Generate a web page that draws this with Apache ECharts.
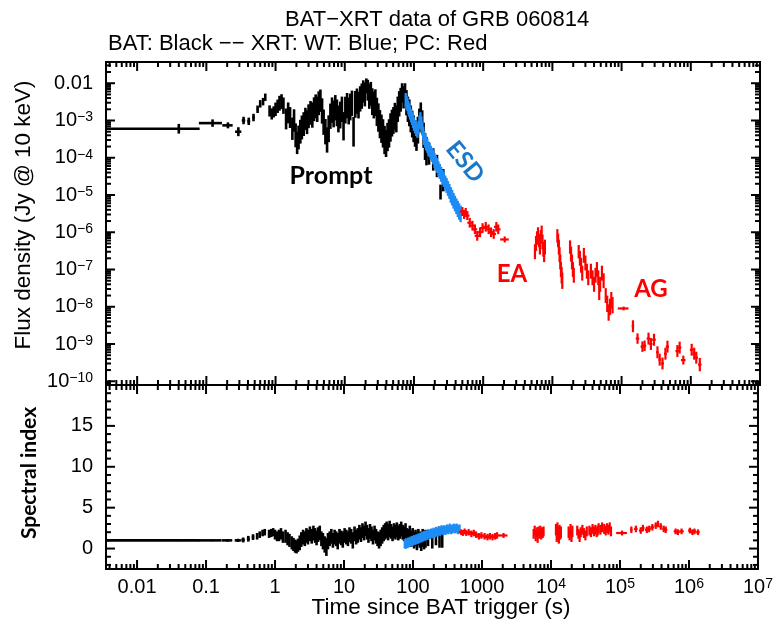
<!DOCTYPE html>
<html>
<head>
<meta charset="utf-8">
<title>BAT-XRT data of GRB 060814</title>
<script src="https://cdn.jsdelivr.net/npm/echarts@6/dist/echarts.min.js"></script>
<style>
  html, body { margin: 0; padding: 0; background: #fff; }
  #chart { width: 776px; height: 626px; }
</style>
</head>
<body>
<div id="chart"></div>
<script>
// flux points: [time (s), time half width (s), flux density (Jy), flux error (dex)]
// index points: [spectral index, error], one per flux point of the same instrument
var batFlux = [
  [0.04, 0.04, 6.0e-4, 0.13], [0.123, 0.045, 8.5e-4, 0.1], [0.205, 0.035, 7.4e-4, 0.08], [0.29, 0.03, 5.0e-4, 0.12],
  [0.345, 0.02, 1.0e-3, 0.1], [0.41, 0.02, 9.5e-4, 0.1], [0.48, 0.02, 1.2e-3, 0.1], [0.55, 0.015, 2.0e-3, 0.1],
  [0.6, 0.015, 2.8e-3, 0.1], [0.66, 0.015, 3.2e-3, 0.1], [0.71, 0.015, 4.2e-3, 0.1], [0.82, 0.02, 1.8e-3, 0.15],
  [0.88, 0.02, 1.5e-3, 0.15], [0.94, 0.02, 1.7e-3, 0.15], [1.0, 0.02, 2.0e-3, 0.18], [1.07, 0.02, 2.4e-3, 0.18],
  [1.14, 0.02, 2.9e-3, 0.2], [1.22, 0.02, 3.2e-3, 0.2], [1.3, 0.02, 2.5e-3, 0.22], [1.42, 0.02, 1.1e-3, 0.28],
  [1.52, 0.02, 1.6e-3, 0.28], [1.62, 0.02, 1.2e-3, 0.28], [1.75, 0.02, 6.0e-4, 0.3], [1.85, 0.02, 1.0e-3, 0.3],
  [1.95, 0.02, 4.0e-4, 0.32], [2.05, 0.02, 2.5e-4, 0.3], [2.15, 0.02, 3.5e-4, 0.32], [2.28, 0.03, 5.0e-4, 0.32],
  [2.4, 0.03, 6.5e-4, 0.32], [2.55, 0.03, 8.0e-4, 0.32], [2.7, 0.03, 1.1e-3, 0.3], [2.85, 0.03, 9.0e-4, 0.32],
  [3.0, 0.03, 1.3e-3, 0.32], [3.2, 0.03, 1.6e-3, 0.32], [3.4, 0.03, 1.4e-3, 0.34], [3.6, 0.03, 2.0e-3, 0.32],
  [3.8, 0.03, 2.4e-3, 0.32], [4.0, 0.03, 2.0e-3, 0.34], [4.2, 0.03, 2.9e-3, 0.32], [4.45, 0.03, 3.4e-3, 0.3],
  [4.7, 0.03, 1.8e-3, 0.34], [4.95, 0.03, 9.0e-4, 0.34], [5.25, 0.03, 5.0e-4, 0.34], [5.55, 0.03, 3.0e-4, 0.34],
  [5.85, 0.03, 6.0e-4, 0.36], [6.2, 0.04, 1.3e-3, 0.34], [6.55, 0.04, 1.9e-3, 0.34], [6.9, 0.04, 1.5e-3, 0.36],
  [7.3, 0.04, 2.2e-3, 0.34], [7.7, 0.04, 1.6e-3, 0.36], [8.1, 0.04, 1.1e-3, 0.36], [8.6, 0.05, 1.4e-3, 0.36],
  [9.1, 0.05, 2.0e-3, 0.34], [9.6, 0.05, 7.0e-4, 0.38], [10.2, 0.05, 1.9e-3, 0.36], [10.8, 0.05, 2.5e-3, 0.34],
  [11.4, 0.05, 1.8e-3, 0.36], [12.0, 0.05, 2.3e-3, 0.36], [12.7, 0.05, 2.9e-3, 0.34], [13.4, 0.05, 5.0e-4, 0.4],
  [14.2, 0.05, 2.7e-3, 0.36], [15.0, 0.05, 3.3e-3, 0.34], [15.8, 0.05, 2.6e-3, 0.36], [16.7, 0.05, 3.8e-3, 0.34],
  [17.6, 0.05, 4.5e-3, 0.34], [18.5, 0.05, 6.0e-3, 0.3], [19.5, 0.05, 5.0e-3, 0.32], [20.5, 0.05, 8.5e-3, 0.2],
  [21.5, 0.05, 6.5e-3, 0.28], [22.6, 0.05, 4.5e-3, 0.34], [23.8, 0.05, 5.2e-3, 0.32], [25.0, 0.05, 3.2e-3, 0.36],
  [26.3, 0.05, 2.6e-3, 0.36], [27.7, 0.05, 3.0e-3, 0.36], [29.1, 0.05, 1.7e-3, 0.38], [30.6, 0.05, 1.2e-3, 0.38],
  [32.2, 0.05, 8.0e-4, 0.38], [33.9, 0.05, 6.0e-4, 0.38], [35.7, 0.05, 4.5e-4, 0.38], [37.6, 0.05, 3.0e-4, 0.38],
  [39.5, 0.05, 2.4e-4, 0.36], [41.5, 0.05, 3.6e-4, 0.38], [43.6, 0.05, 4.5e-4, 0.38], [45.8, 0.05, 6.5e-4, 0.38],
  [48.1, 0.05, 8.5e-4, 0.36], [50.5, 0.05, 1.0e-3, 0.36], [53.0, 0.05, 1.3e-3, 0.36], [55.6, 0.05, 1.1e-3, 0.36],
  [58.3, 0.05, 2.0e-3, 0.34], [61.2, 0.05, 2.8e-3, 0.34], [64.2, 0.05, 3.6e-3, 0.32], [67.4, 0.05, 5.5e-3, 0.26],
  [70.7, 0.05, 4.2e-3, 0.3], [74.2, 0.05, 5.0e-3, 0.3], [77.9, 0.05, 3.0e-3, 0.34], [81.7, 0.05, 2.0e-3, 0.34],
  [85.7, 0.05, 1.6e-3, 0.36], [89.9, 0.05, 1.1e-3, 0.36], [94.3, 0.05, 8.0e-4, 0.36], [98.9, 0.05, 6.0e-4, 0.36],
  [103.7, 0.05, 4.5e-4, 0.36], [108.7, 0.05, 3.5e-4, 0.36], [114.0, 0.05, 5.5e-4, 0.36], [119.6, 0.05, 1.0e-3, 0.32],
  [125.4, 0.05, 1.6e-3, 0.28], [131.5, 0.05, 9.0e-4, 0.32], [137.9, 0.05, 4.0e-4, 0.34], [144.6, 0.05, 2.0e-4, 0.36],
  [151.6, 0.05, 1.5e-4, 0.38], [165, 2, 1.3e-4, 0.3], [190, 3, 9.0e-5, 0.3], [215, 3, 6.0e-5, 0.3],
  [242, 4, 1.2e-5, 0.2], [265, 4, 2.5e-5, 0.3]
];
var batIndex = [
  [1.0, 0.1], [1.0, 0.1], [1.0, 0.15], [1.0, 0.2], [1.05, 0.3], [1.2, 0.35], [1.4, 0.35], [1.5, 0.4],
  [1.7, 0.4], [1.9, 0.4], [2.0, 0.4], [1.8, 0.5], [1.9, 0.5], [2.0, 0.5], [1.7, 0.6], [1.5, 0.6],
  [1.6, 0.7], [1.8, 0.7], [1.4, 0.7], [1.5, 0.8], [1.2, 0.8], [1.0, 0.8], [0.7, 0.8], [0.5, 0.8],
  [0.3, 0.8], [0.2, 0.8], [0.4, 0.8], [0.7, 0.9], [1.1, 0.9], [1.4, 0.9], [1.2, 0.9], [1.6, 0.9],
  [1.4, 0.9], [1.8, 0.9], [1.5, 0.9], [1.9, 0.9], [1.6, 0.9], [1.3, 0.9], [1.7, 0.9], [1.9, 0.9],
  [1.2, 0.9], [0.9, 1.0], [0.5, 1.0], [0.2, 1.1], [0.9, 1.0], [1.2, 0.9], [1.5, 0.9], [1.0, 0.9],
  [1.4, 0.9], [1.2, 0.9], [0.9, 1.0], [1.5, 0.9], [1.3, 0.9], [1.1, 1.0], [1.6, 0.9], [1.4, 0.9],
  [1.2, 0.9], [1.7, 0.9], [1.5, 0.9], [1.0, 1.0], [1.8, 0.9], [1.4, 0.9], [1.6, 0.9], [2.0, 0.9],
  [1.7, 0.9], [2.2, 0.9], [1.9, 0.9], [2.4, 0.9], [2.0, 0.9], [1.6, 0.9], [2.1, 0.9], [1.8, 0.9],
  [1.4, 0.9], [1.9, 0.9], [1.5, 0.9], [1.2, 0.9], [1.0, 1.0], [1.3, 1.0], [1.6, 1.0], [1.9, 1.0],
  [2.1, 1.0], [2.3, 1.0], [2.0, 1.0], [2.4, 1.0], [2.1, 0.9], [1.8, 0.9], [2.2, 0.9], [2.0, 0.9],
  [2.3, 0.9], [1.9, 0.9], [2.1, 0.9], [2.4, 0.9], [2.0, 0.9], [1.8, 0.9], [2.2, 0.9], [1.6, 0.9],
  [1.4, 1.0], [1.8, 1.0], [1.2, 1.0], [1.5, 1.0], [1.0, 1.0], [1.3, 1.0], [0.9, 1.1], [1.4, 1.0],
  [1.1, 1.0], [0.8, 1.1], [1.3, 1.1], [1.0, 1.1], [1.2, 1.1], [1.3, 1.0], [1.0, 1.0], [1.4, 1.0],
  [1.2, 1.1], [1.1, 1.0]
];

var wtFlux = [
  [76, 1.5, 3.6e-3, 0.18], [78, 1.5, 3.0e-3, 0.18], [80.5, 1.5, 2.7e-3, 0.18], [83, 1.5, 2.2e-3, 0.18],
  [85.5, 1.5, 1.9e-3, 0.18], [88, 1.5, 1.6e-3, 0.18], [91, 1.5, 1.35e-3, 0.18], [94, 1.5, 1.15e-3, 0.18],
  [97, 1.5, 9.5e-4, 0.18], [100, 2, 8.0e-4, 0.18], [104, 2, 6.8e-4, 0.18], [108, 2, 5.8e-4, 0.18],
  [112, 2, 5.2e-4, 0.18], [116, 2, 6.5e-4, 0.18], [120, 2, 9.0e-4, 0.18], [124, 2, 1.1e-3, 0.18],
  [128, 2, 8.5e-4, 0.18], [132, 2, 6.0e-4, 0.18], [136, 2, 4.5e-4, 0.18], [140, 2, 3.4e-4, 0.19],
  [145, 2, 2.9e-4, 0.19], [150, 2.5, 2.4e-4, 0.19], [156, 2.5, 2.1e-4, 0.19], [162, 2.5, 1.75e-4, 0.19],
  [168, 2.5, 1.6e-4, 0.19], [175, 3, 1.35e-4, 0.19], [182, 3, 1.2e-4, 0.19], [190, 3, 1.05e-4, 0.2],
  [198, 3, 8.5e-5, 0.2], [207, 3, 7.2e-5, 0.2], [216, 3, 6.2e-5, 0.2], [226, 3.5, 5.0e-5, 0.2],
  [236, 3.5, 4.3e-5, 0.2], [247, 4, 3.6e-5, 0.2], [258, 4, 3.0e-5, 0.2], [270, 4, 2.6e-5, 0.2],
  [283, 4.5, 2.1e-5, 0.2], [296, 4.5, 1.8e-5, 0.2], [310, 5, 1.5e-5, 0.2], [325, 5, 1.25e-5, 0.2],
  [340, 5.5, 1.0e-5, 0.21], [356, 5.5, 8.5e-6, 0.21], [373, 6, 7.0e-6, 0.21], [391, 6, 5.9e-6, 0.21],
  [410, 6.5, 5.0e-6, 0.21], [430, 7, 4.2e-6, 0.22], [450, 7, 3.6e-6, 0.22], [472, 8, 3.1e-6, 0.22]
];
var wtIndex = [
  [0.6, 0.55], [0.5, 0.55], [0.7, 0.55], [0.6, 0.55], [0.8, 0.55], [0.7, 0.55], [0.9, 0.55], [0.8, 0.55],
  [1.0, 0.55], [0.9, 0.55], [1.1, 0.55], [1.0, 0.55], [1.2, 0.55], [1.1, 0.55], [1.3, 0.55], [1.2, 0.55],
  [1.4, 0.55], [1.3, 0.55], [1.5, 0.55], [1.4, 0.55], [1.6, 0.55], [1.5, 0.55], [1.7, 0.55], [1.6, 0.55],
  [1.8, 0.55], [1.7, 0.55], [1.9, 0.55], [1.8, 0.55], [2.0, 0.55], [1.9, 0.55], [2.1, 0.55], [2.0, 0.55],
  [2.2, 0.55], [2.1, 0.55], [2.3, 0.55], [2.2, 0.55], [2.3, 0.55], [2.2, 0.55], [2.4, 0.55], [2.3, 0.55],
  [2.5, 0.55], [2.3, 0.55], [2.4, 0.55], [2.5, 0.55], [2.4, 0.55], [2.5, 0.55], [2.3, 0.55], [2.4, 0.55]
];

var pcFlux = [
  [500, 40, 3.6e-6, 0.12], [530, 40, 3.0e-6, 0.12], [560, 45, 3.4e-6, 0.12], [590, 45, 2.8e-6, 0.12],
  [640, 50, 1.8e-6, 0.13], [700, 55, 1.5e-6, 0.13], [760, 60, 1.2e-6, 0.13], [820, 65, 8.0e-7, 0.13],
  [900, 70, 1.0e-6, 0.13], [980, 80, 1.3e-6, 0.13], [1090, 85, 1.4e-6, 0.13], [1200, 95, 1.2e-6, 0.13],
  [1300, 100, 1.0e-6, 0.13], [1420, 110, 9.0e-7, 0.13], [1550, 120, 1.4e-6, 0.13], [1650, 130, 1.2e-6, 0.13],
  [2050, 290, 6.4e-7, 0.08],
  [5600, 110, 3.0e-7, 0.2], [5800, 110, 5.0e-7, 0.2], [6000, 110, 7.0e-7, 0.18], [6200, 110, 9.0e-7, 0.18],
  [6400, 110, 6.0e-7, 0.18], [6600, 110, 4.0e-7, 0.2], [6800, 110, 7.5e-7, 0.18], [7000, 110, 1.0e-6, 0.18],
  [7200, 110, 5.5e-7, 0.2], [7400, 110, 3.5e-7, 0.2], [7600, 110, 2.5e-7, 0.2], [7800, 110, 4.0e-7, 0.2],
  [11800, 150, 8.0e-7, 0.18], [12100, 150, 6.0e-7, 0.18], [12400, 150, 4.0e-7, 0.2], [12700, 150, 2.5e-7, 0.2],
  [13000, 150, 1.6e-7, 0.2], [13300, 150, 1.0e-7, 0.2], [13600, 150, 7.0e-8, 0.22], [13900, 150, 5.0e-8, 0.22],
  [18000, 250, 4.0e-7, 0.18], [18600, 250, 2.6e-7, 0.2], [19200, 250, 1.6e-7, 0.2], [19800, 250, 1.0e-7, 0.2],
  [20400, 250, 7.0e-8, 0.2],
  [24000, 350, 3.0e-7, 0.18], [25000, 350, 2.0e-7, 0.2], [26000, 350, 1.3e-7, 0.2], [27000, 350, 8.0e-8, 0.2],
  [28500, 350, 2.4e-7, 0.2], [30000, 350, 1.5e-7, 0.2], [31500, 350, 9.0e-8, 0.2], [33000, 350, 6.0e-8, 0.2],
  [36000, 500, 9.0e-8, 0.2], [38000, 500, 6.0e-8, 0.2], [40000, 500, 4.0e-8, 0.2], [42000, 500, 7.0e-8, 0.2],
  [44000, 500, 1.0e-7, 0.2], [46000, 500, 6.0e-8, 0.2], [47500, 500, 2.5e-8, 0.22], [49000, 500, 4.0e-8, 0.2],
  [52000, 500, 8.0e-8, 0.2], [55000, 500, 5.0e-8, 0.2],
  [59000, 700, 2.0e-8, 0.2], [62000, 700, 1.2e-8, 0.22], [65000, 700, 7.0e-9, 0.22], [68000, 700, 1.0e-8, 0.22],
  [71000, 700, 1.5e-8, 0.22], [74000, 700, 1.1e-8, 0.22],
  [107000, 19000, 9.0e-9, 0.05], [146000, 6000, 3.0e-9, 0.16], [170000, 10000, 1.4e-9, 0.14],
  [200000, 12000, 8.5e-10, 0.14], [215000, 12000, 9.0e-10, 0.14], [245000, 15000, 1.4e-9, 0.16],
  [265000, 15000, 1.0e-9, 0.16], [294000, 18000, 1.3e-9, 0.16], [330000, 15000, 6.0e-10, 0.16],
  [355000, 15000, 3.8e-10, 0.16], [390000, 20000, 3.0e-10, 0.16], [430000, 20000, 5.5e-10, 0.16],
  [460000, 25000, 8.5e-10, 0.16], [640000, 40000, 6.5e-10, 0.16], [690000, 40000, 8.0e-10, 0.16],
  [780000, 60000, 3.7e-10, 0.12], [1030000, 60000, 7.0e-10, 0.16], [1120000, 60000, 5.5e-10, 0.16],
  [1200000, 70000, 4.3e-10, 0.16], [1350000, 80000, 2.8e-10, 0.18]
];
var pcIndex = [
  [2.0, 0.35], [1.9, 0.35], [2.1, 0.35], [1.9, 0.35], [2.0, 0.4], [1.8, 0.4], [1.9, 0.4], [1.7, 0.4],
  [1.5, 0.4], [1.6, 0.4], [1.5, 0.4], [1.4, 0.4], [1.5, 0.4], [1.4, 0.4], [1.5, 0.4], [1.6, 0.4],
  [1.6, 0.3],
  [1.8, 0.6], [2.2, 0.6], [1.6, 0.7], [2.0, 0.6], [1.4, 0.7], [2.1, 0.6], [1.8, 0.6], [2.2, 0.6],
  [1.7, 0.6], [2.0, 0.6], [1.9, 0.6], [2.1, 0.6],
  [2.3, 0.7], [1.6, 0.8], [2.5, 0.7], [1.9, 0.8], [1.4, 0.8], [2.2, 0.7], [1.8, 0.7], [2.0, 0.7],
  [2.0, 0.7], [1.7, 0.7], [2.3, 0.7], [1.5, 0.7], [2.1, 0.7],
  [2.2, 0.6], [1.8, 0.6], [1.5, 0.7], [2.0, 0.6], [2.3, 0.6], [1.9, 0.6], [1.6, 0.6], [2.1, 0.6],
  [2.2, 0.6], [2.0, 0.6], [2.4, 0.6], [2.1, 0.6], [2.3, 0.6], [2.0, 0.6], [2.2, 0.6], [2.5, 0.6],
  [2.3, 0.6], [2.6, 0.6],
  [2.4, 0.6], [2.2, 0.6], [2.5, 0.6], [2.3, 0.6], [2.6, 0.6], [2.1, 0.6],
  [1.9, 0.3], [2.3, 0.4], [2.4, 0.4], [2.2, 0.4], [2.5, 0.4], [2.3, 0.4], [2.4, 0.4], [2.6, 0.4],
  [2.8, 0.4], [3.0, 0.4], [2.7, 0.4], [2.4, 0.4], [2.3, 0.4], [2.1, 0.35], [2.0, 0.35], [2.1, 0.35],
  [2.2, 0.35], [2.0, 0.35], [2.1, 0.35], [2.0, 0.35]
];

// axes
var X_MIN = Math.pow(10, -2.45), X_MAX = 1e7;
var FLUX_MIN = Math.pow(10, -10.1), FLUX_MAX = Math.pow(10, -1.43);
var INDEX_MIN = -2.5, INDEX_MAX = 20;

var timeTicks = [0.01, 0.1, 1, 10, 100, 1000, 1e4, 1e5, 1e6, 1e7];
var timeTickLabels = ['0.01', '0.1', '1', '10', '100', '1000', '10{s|4}', '10{s|5}', '10{s|6}', '10{s|7}'];
var fluxTicks = [0.01, 1e-3, 1e-4, 1e-5, 1e-6, 1e-7, 1e-8, 1e-9, 1e-10];
var fluxTickLabels = ['0.01', '10{s|\u22123}', '10{s|\u22124}', '10{s|\u22125}', '10{s|\u22126}',
  '10{s|\u22127}', '10{s|\u22128}', '10{s|\u22129}', '10{s|\u221210}'];
var indexTicks = [0, 5, 10, 15];
var indexTickLabels = ['0', '5', '10', '15'];
var indexMinorTicks = [-2, -1, 1, 2, 3, 4, 6, 7, 8, 9, 11, 12, 13, 14, 16, 17, 18, 19];
var timeDecades = [0.001, 0.01, 0.1, 1, 10, 100, 1000, 1e4, 1e5, 1e6];
var fluxDecades = [1e-11, 1e-10, 1e-9, 1e-8, 1e-7, 1e-6, 1e-5, 1e-4, 1e-3, 1e-2];
var minorMultiples = [2, 3, 4, 5, 6, 7, 8, 9];

var FONT = "'Liberation Sans', Arial, Helvetica, sans-serif";
var BOLD_FONT = "Lato, 'Open Sans', sans-serif";
var BLUE = '#1e8cf5';
var RED = '#ff0000';

function minorOf(decades, lo, hi) {
  var out = [];
  decades.forEach(function (d) {
    minorMultiples.forEach(function (m) {
      var v = d * m;
      if (v > lo && v < hi) out.push(v);
    });
  });
  return out;
}

function near(a, b) {
  return Math.abs(Math.log10(a) - Math.log10(b)) < 1e-6;
}

function logLabel(ticks, labels) {
  return function (v) {
    for (var i = 0; i < ticks.length; i++) {
      if (near(v, ticks[i])) return labels[i];
    }
    return '';
  };
}

function withIndex(flux, index) {
  return flux.map(function (p, i) { return [p[0], p[1], index[i][0], index[i][1]]; });
}

// one cross per point: horizontal time bar, vertical error bar
function errorBars(logErr, width) {
  return function (params, api) {
    var t = api.value(0), dt = api.value(1), v = api.value(2), e = api.value(3);
    var lo = logErr ? v / Math.pow(10, e) : v - e;
    var hi = logErr ? v * Math.pow(10, e) : v + e;
    var c = api.coord([t, v]);
    var l = api.coord([Math.max(t - dt, X_MIN), v]);
    var r = api.coord([t + dt, v]);
    var b = api.coord([t, lo]);
    var u = api.coord([t, hi]);
    var st = { stroke: api.visual('color'), lineWidth: width };
    return {
      type: 'group',
      children: [
        { type: 'line', shape: { x1: l[0], y1: c[1], x2: r[0], y2: c[1] }, style: st },
        { type: 'line', shape: { x1: c[0], y1: b[1], x2: c[0], y2: u[1] }, style: st }
      ]
    };
  };
}

// inward ticks on all four sides of a grid
function renderTicks(params, api) {
  var cs = params.coordSys;
  var kind = api.value(2);
  var p = api.coord([api.value(0), api.value(1)]);
  var len = (kind === 0 || kind === 2) ? 9 : 5;
  var st = { stroke: '#000', lineWidth: 2 };
  var segs;
  if (kind < 2) {
    segs = [[p[0], cs.y, p[0], cs.y + len], [p[0], cs.y + cs.height, p[0], cs.y + cs.height - len]];
  } else {
    segs = [[cs.x, p[1], cs.x + len, p[1]], [cs.x + cs.width, p[1], cs.x + cs.width - len, p[1]]];
  }
  return {
    type: 'group',
    children: segs.map(function (s) {
      return { type: 'line', shape: { x1: s[0], y1: s[1], x2: s[2], y2: s[3] }, style: st };
    })
  };
}

function tickData(xMajor, xMinor, yMajor, yMinor, xRef, yRef) {
  var d = [];
  xMajor.forEach(function (v) { d.push([v, yRef, 0]); });
  xMinor.forEach(function (v) { d.push([v, yRef, 1]); });
  yMajor.forEach(function (v) { d.push([xRef, v, 2]); });
  yMinor.forEach(function (v) { d.push([xRef, v, 3]); });
  return d;
}

var timeMinor = minorOf(timeDecades, X_MIN, X_MAX);
var fluxMinor = minorOf(fluxDecades, FLUX_MIN, FLUX_MAX);

var labelBase = {
  color: '#000', fontSize: 20, fontFamily: FONT,
  rich: { s: { fontSize: 14, fontFamily: FONT, color: '#000', verticalAlign: 'top' } }
};
var hidden = {
  axisLine: { show: false }, axisTick: { show: false }, splitLine: { show: false }
};
var titleStyle = { fontSize: 22, fontWeight: 'normal', fontFamily: FONT, color: '#000' };

function errSeries(name, data, color, xi, logErr, width) {
  return {
    name: name, type: 'custom', xAxisIndex: xi, yAxisIndex: xi,
    encode: { x: 0, y: 2 }, data: data, clip: true,
    itemStyle: { color: color }, renderItem: errorBars(logErr, width), silent: true
  };
}

var chart = echarts.init(document.getElementById('chart'));
chart.setOption({
  animation: false,
  backgroundColor: '#fff',
  title: [
    { text: 'BAT\u2212XRT data of GRB 060814', left: 285, top: 9, padding: 0, textStyle: titleStyle },
    { text: 'BAT: Black \u2212\u2212 XRT: WT: Blue; PC: Red', left: 108, top: 33, padding: 0, textStyle: titleStyle }
  ],
  grid: [
    { left: 106, top: 62, width: 654, height: 323, show: true, borderColor: '#000', borderWidth: 2 },
    { left: 106, top: 385, width: 654, height: 184, show: true, borderColor: '#000', borderWidth: 2 }
  ],
  xAxis: [
    Object.assign({ type: 'log', gridIndex: 0, min: X_MIN, max: X_MAX, splitNumber: 10,
      axisLabel: { show: false } }, hidden),
    Object.assign({ type: 'log', gridIndex: 1, min: X_MIN, max: X_MAX, splitNumber: 10,
      axisLabel: Object.assign({ margin: 8, formatter: logLabel(timeTicks, timeTickLabels),
        showMinLabel: true, showMaxLabel: true }, labelBase) }, hidden)
  ],
  yAxis: [
    Object.assign({ type: 'log', gridIndex: 0, min: FLUX_MIN, max: FLUX_MAX, splitNumber: 10,
      axisLabel: Object.assign({ margin: 13, formatter: logLabel(fluxTicks, fluxTickLabels),
        showMinLabel: true, showMaxLabel: true }, labelBase) }, hidden),
    Object.assign({ type: 'value', gridIndex: 1, min: INDEX_MIN, max: INDEX_MAX,
      axisLabel: Object.assign({ margin: 13, showMinLabel: true, showMaxLabel: true,
        formatter: function (v) {
          var i = indexTicks.indexOf(v);
          return i < 0 ? '' : indexTickLabels[i];
        } }, labelBase) }, hidden)
  ],
  series: [
    errSeries('BAT', batFlux, '#000', 0, true, 2.6),
    errSeries('XRT WT', wtFlux, BLUE, 0, true, 2.4),
    errSeries('XRT PC', pcFlux, RED, 0, true, 2.2),
    errSeries('BAT index', withIndex(batFlux, batIndex), '#000', 1, false, 2.6),
    errSeries('XRT WT index', withIndex(wtFlux, wtIndex), BLUE, 1, false, 2.4),
    errSeries('XRT PC index', withIndex(pcFlux, pcIndex), RED, 1, false, 2.2),
    {
      type: 'custom', xAxisIndex: 0, yAxisIndex: 0, encode: { x: 0, y: 1 }, silent: true, z: 5,
      data: tickData(timeTicks, timeMinor, fluxTicks, fluxMinor, 1, 1e-5), renderItem: renderTicks
    },
    {
      type: 'custom', xAxisIndex: 1, yAxisIndex: 1, encode: { x: 0, y: 1 }, silent: true, z: 5,
      data: tickData(timeTicks, timeMinor, indexTicks, indexMinorTicks, 1, 0), renderItem: renderTicks
    }
  ],
  graphic: [
    { type: 'text', x: 24, y: 215, rotation: Math.PI / 2,
      style: { text: 'Flux density (Jy @ 10 keV)', font: '22.5px ' + FONT, fill: '#000',
        align: 'center', verticalAlign: 'middle' } },
    { type: 'text', x: 29, y: 473, rotation: Math.PI / 2,
      style: { text: 'Spectral index', font: 'bold 21px ' + BOLD_FONT, fill: '#000',
        align: 'center', verticalAlign: 'middle' } },
    { type: 'text', x: 441, y: 608,
      style: { text: 'Time since BAT trigger (s)', font: '22.5px ' + FONT, fill: '#000',
        align: 'center', verticalAlign: 'middle' } },
    { type: 'text', x: 331, y: 176,
      style: { text: 'Prompt', font: 'bold 25px ' + BOLD_FONT, fill: '#000',
        align: 'center', verticalAlign: 'middle' } },
    { type: 'text', x: 465, y: 162, rotation: -0.89,
      style: { text: 'ESD', font: 'bold 24px ' + BOLD_FONT, fill: '#1b78c8',
        align: 'center', verticalAlign: 'middle' } },
    { type: 'text', x: 512, y: 274,
      style: { text: 'EA', font: 'bold 24px ' + BOLD_FONT, fill: RED,
        align: 'center', verticalAlign: 'middle' } },
    { type: 'text', x: 651, y: 289,
      style: { text: 'AG', font: 'bold 24px ' + BOLD_FONT, fill: RED,
        align: 'center', verticalAlign: 'middle' } }
  ]
});
</script>
</body>
</html>
